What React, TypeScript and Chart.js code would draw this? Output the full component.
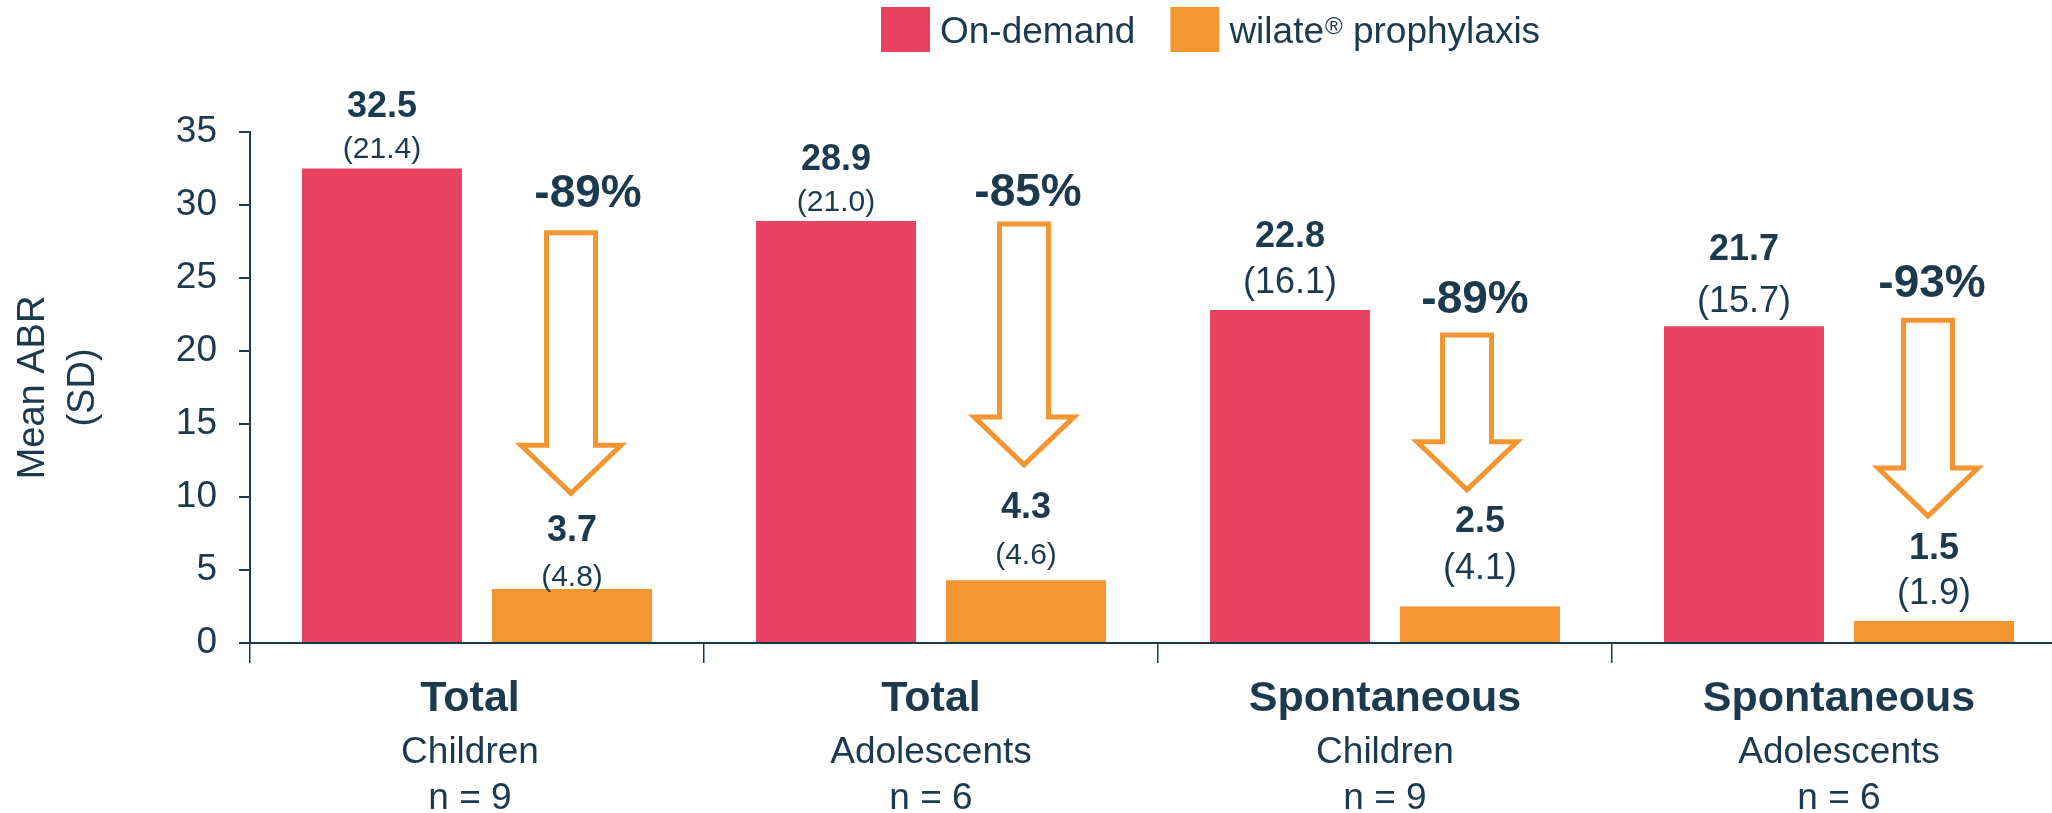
import { useEffect, useRef } from 'react';
import { Chart, registerables } from 'chart.js';

Chart.register(...registerables);

// ---- data ----
const categoryNames = ['Total', 'Total', 'Spontaneous', 'Spontaneous'];
const ageGroups = ['Children', 'Adolescents', 'Children', 'Adolescents'];
const sampleSizes = ['n = 9', 'n = 6', 'n = 9', 'n = 6'];
const onDemandMean = [32.5, 28.9, 22.8, 21.7];
const onDemandSD = [21.4, 21.0, 16.1, 15.7];
const prophylaxisMean = [3.7, 4.3, 2.5, 1.5];
const prophylaxisSD = [4.8, 4.6, 4.1, 1.9];
const reductionLabels = ['-89%', '-85%', '-89%', '-93%'];
const seriesNames = ['On-demand', 'wilate\u00AE prophylaxis'];

// ---- style ----
const FONT = "'Liberation Sans', Arial, Helvetica, sans-serif";
const NAVY = '#1b3a4e';
const RED = '#e84461';
const ORANGE = '#f39530';
const CANVAS_W = 2066;
const CANVAS_H = 813;

// label offsets (px above bar top, measured to text centre)
const LABEL_LAYOUT = {
  value: [
    [64, 64, 76, 79],
    [61, 75, 87, 75],
  ],
  sd: [
    [21, 21, 30, 27],
    [14, 27, 40, 30],
  ],
  sdFont: [30, 30, 36, 36],
  categoryDx: [-7, 0, 0, 0],
};

// arrow annotations (y in data units, dx in px)
const ARROWS = {
  top: [28.1, 28.7, 21.1, 22.1],
  tip: [10.25, 12.2, 10.5, 8.7],
  dx: [-1, -2, -13, -6],
  labelY: [31.0, 31.05, 23.7, 24.8],
  labelDx: [16, 2, -5, -2],
  shaftHalf: 24.5,
  headHalf: 50,
  headH: 48,
};

function textAtCenter(ctx: CanvasRenderingContext2D, text: string, x: number, cy: number, size: number, bold: boolean) {
  ctx.font = `${bold ? 'bold ' : ''}${size}px ${FONT}`;
  ctx.textAlign = 'center';
  ctx.textBaseline = 'alphabetic';
  ctx.fillText(text, x, cy + 0.358 * size);
}

const annotationPlugin = {
  id: 'annotations',
  afterDatasetsDraw(chart: any) {
    const ctx: CanvasRenderingContext2D = chart.ctx;
    const yScale = chart.scales.y;
    const xScale = chart.scales.x;
    const sds = [onDemandSD, prophylaxisSD];
    ctx.save();
    ctx.fillStyle = NAVY;
    chart.data.datasets.forEach((ds: any, di: number) => {
      const meta = chart.getDatasetMeta(di);
      meta.data.forEach((bar: any, i: number) => {
        ctx.fillStyle = NAVY;
        textAtCenter(ctx, Number(ds.data[i]).toFixed(1), bar.x, bar.y - LABEL_LAYOUT.value[di][i], 36, true);
        textAtCenter(ctx, `(${sds[di][i].toFixed(1)})`, bar.x, bar.y - LABEL_LAYOUT.sd[di][i], LABEL_LAYOUT.sdFont[i], false);
      });
    });

    // arrows + reduction labels
    const proMeta = chart.getDatasetMeta(1);
    proMeta.data.forEach((bar: any, i: number) => {
      const cx = bar.x + ARROWS.dx[i];
      const top = yScale.getPixelForValue(ARROWS.top[i]);
      const tip = yScale.getPixelForValue(ARROWS.tip[i]);
      const neck = tip - ARROWS.headH;
      const sw = ARROWS.shaftHalf;
      const hw = ARROWS.headHalf;
      ctx.beginPath();
      ctx.moveTo(cx - sw, top);
      ctx.lineTo(cx + sw, top);
      ctx.lineTo(cx + sw, neck);
      ctx.lineTo(cx + hw, neck);
      ctx.lineTo(cx, tip);
      ctx.lineTo(cx - hw, neck);
      ctx.lineTo(cx - sw, neck);
      ctx.closePath();
      ctx.fillStyle = '#ffffff';
      ctx.fill();
      ctx.strokeStyle = ORANGE;
      ctx.lineWidth = 5;
      ctx.lineJoin = 'miter';
      ctx.stroke();
      ctx.fillStyle = NAVY;
      textAtCenter(ctx, reductionLabels[i], bar.x + ARROWS.labelDx[i], yScale.getPixelForValue(ARROWS.labelY[i]), 46, true);
    });

    // category labels
    const base = chart.chartArea.bottom;
    categoryNames.forEach((name, i) => {
      const x = xScale.getPixelForValue(i) + LABEL_LAYOUT.categoryDx[i];
      ctx.fillStyle = NAVY;
      textAtCenter(ctx, name, x, base + 53, 43, true);
      textAtCenter(ctx, ageGroups[i], x, base + 107, 37, false);
      textAtCenter(ctx, sampleSizes[i], x, base + 153, 37, false);
    });
    ctx.restore();
  },
  afterDraw(chart: any) {
    // legend
    const ctx: CanvasRenderingContext2D = chart.ctx;
    ctx.save();
    let x = 881;
    const boxW = 49;
    const boxH = 45;
    const boxY = 7;
    const baseline = 43;
    chart.data.datasets.forEach((ds: any) => {
      ctx.fillStyle = ds.backgroundColor;
      ctx.fillRect(x, boxY, boxW, boxH);
      x += boxW + 10;
      ctx.fillStyle = NAVY;
      ctx.textAlign = 'left';
      ctx.textBaseline = 'alphabetic';
      const parts = String(ds.label).split('\u00AE');
      ctx.font = `37px ${FONT}`;
      ctx.fillText(parts[0], x, baseline);
      x += ctx.measureText(parts[0]).width;
      if (parts.length > 1) {
        ctx.font = `24px ${FONT}`;
        ctx.fillText('\u00AE', x + 1, baseline - 9);
        x += ctx.measureText('\u00AE').width + 1;
        ctx.font = `37px ${FONT}`;
        ctx.fillText(parts[1], x, baseline);
        x += ctx.measureText(parts[1]).width;
      }
      x += 35;
    });
    ctx.restore();
  },
};

export default function App() {
  const canvasRef = useRef<HTMLCanvasElement | null>(null);

  useEffect(() => {
    const canvas = canvasRef.current;
    if (!canvas) return;
    const chart = new Chart(canvas, {
      type: 'bar',
      data: {
        labels: categoryNames.map((n, i) => `${n} ${ageGroups[i]}`),
        datasets: [
          {
            label: seriesNames[0],
            data: onDemandMean,
            backgroundColor: RED,
            categoryPercentage: 0.837,
            barPercentage: 0.842,
          },
          {
            label: seriesNames[1],
            data: prophylaxisMean,
            backgroundColor: ORANGE,
            categoryPercentage: 0.837,
            barPercentage: 0.842,
          },
        ],
      },
      options: {
        responsive: false,
        animation: false,
        devicePixelRatio: 1,
        layout: { padding: { top: 132, left: 0, right: 0, bottom: 0 } },
        plugins: {
          legend: { display: false },
          tooltip: { enabled: false },
        },
        scales: {
          x: {
            grid: { drawOnChartArea: false, tickLength: 20, color: NAVY, lineWidth: 1.5, offset: true },
            border: { color: NAVY, width: 2 },
            ticks: { display: false },
            afterFit: (s: any) => {
              s.height = 170;
            },
          },
          y: {
            min: 0,
            max: 35,
            ticks: {
              stepSize: 5,
              color: NAVY,
              font: { size: 37, family: FONT },
              padding: 22,
            },
            grid: { drawOnChartArea: false, tickLength: 11, color: NAVY, lineWidth: 2 },
            border: { color: NAVY, width: 2 },
            title: {
              display: true,
              text: ['Mean ABR', '(SD)'],
              color: NAVY,
              font: { size: 38, family: FONT, lineHeight: 1.3 },
              padding: { top: 9, bottom: 0 },
            },
            afterFit: (s: any) => {
              s.width = 250;
            },
          },
        },
      },
      plugins: [annotationPlugin],
    });
    return () => chart.destroy();
  }, []);

  return (
    <div
      style={{
        position: 'fixed',
        left: 0,
        top: 0,
        width: 2052,
        height: 813,
        overflow: 'hidden',
        background: '#ffffff',
      }}
    >
      <canvas ref={canvasRef} width={CANVAS_W} height={CANVAS_H} style={{ display: 'block' }} />
    </div>
  );
}
